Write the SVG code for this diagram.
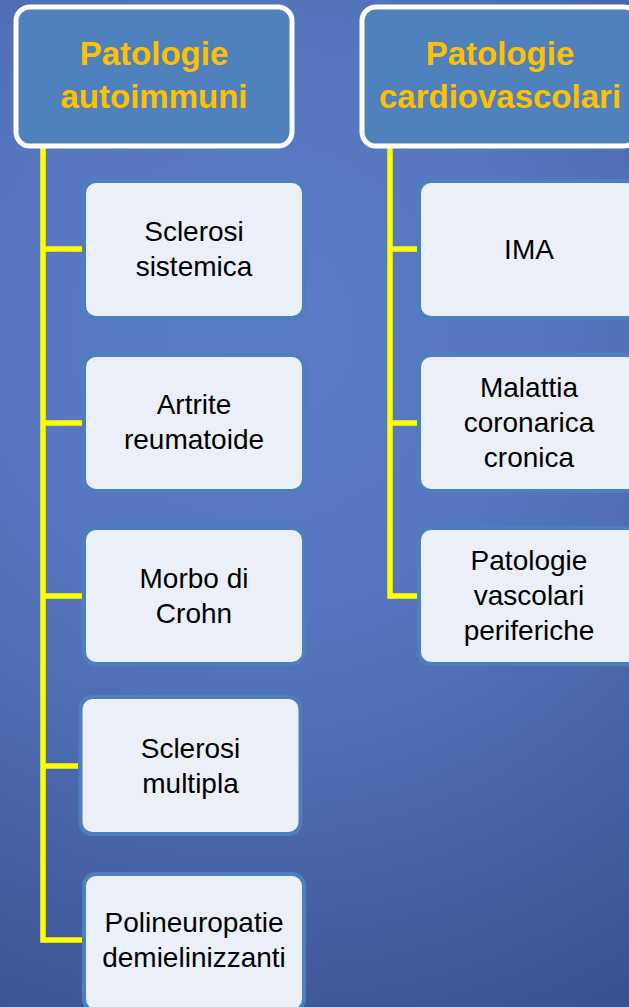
<svg xmlns="http://www.w3.org/2000/svg" width="629" height="1007" viewBox="0 0 629 1007">
<defs>
<radialGradient id="bg" cx="260" cy="330" r="820" gradientUnits="userSpaceOnUse">
<stop offset="0" stop-color="#5b7dc5"/>
<stop offset="0.35" stop-color="#5677c0"/>
<stop offset="1" stop-color="#364d8a"/>
</radialGradient>
<style>
.hdr{fill:#4f81bd;stroke:#ffffff;stroke-width:5}
.htxt{font-family:"Liberation Sans",Arial,sans-serif;font-weight:bold;font-size:33px;fill:#ffc000;text-anchor:middle}
.box{fill:#ebeff8;stroke:#4d7fbc;stroke-width:4}
.btxt{font-family:"Liberation Sans",Arial,sans-serif;font-size:28px;fill:#000000;text-anchor:middle}
.conn{fill:none;stroke:#ffff00;stroke-width:5.5;stroke-linejoin:miter}
</style>
</defs>
<rect x="0" y="0" width="629" height="1007" fill="url(#bg)"/>
<g id="connectors">
<path class="conn" d="M43,146 V940 H82"/>
<path class="conn" d="M43,249 H82 M43,423 H82 M43,596 H82 M43,766 H78"/>
<path class="conn" d="M390,146 V596 H417"/>
<path class="conn" d="M390,249 H417 M390,423 H417"/>
</g>
<g id="hdr-autoimmuni">
<rect class="hdr" x="16" y="7" width="276" height="139" rx="14"/>
<text class="htxt" x="154" y="65">Patologie</text>
<text class="htxt" x="154" y="108">autoimmuni</text>
</g>
<g id="hdr-cardio">
<rect class="hdr" x="362" y="7" width="276" height="139" rx="14"/>
<text class="htxt" x="500" y="65">Patologie</text>
<text class="htxt" x="500" y="108">cardiovascolari</text>
</g>
<g id="sclerosi-sistemica">
<rect class="box" x="84" y="181" width="220" height="137" rx="12"/>
<text class="btxt" x="194" y="241">Sclerosi</text>
<text class="btxt" x="194" y="276">sistemica</text>
</g>
<g id="artrite">
<rect class="box" x="84" y="355" width="220" height="136" rx="12"/>
<text class="btxt" x="194" y="414">Artrite</text>
<text class="btxt" x="194" y="449">reumatoide</text>
</g>
<g id="crohn">
<rect class="box" x="84" y="528" width="220" height="136" rx="12"/>
<text class="btxt" x="194" y="588">Morbo di</text>
<text class="btxt" x="194" y="623">Crohn</text>
</g>
<g id="sclerosi-multipla">
<rect class="box" x="80.5" y="697" width="220" height="137" rx="12"/>
<text class="btxt" x="190.5" y="758">Sclerosi</text>
<text class="btxt" x="190.5" y="793">multipla</text>
</g>
<g id="polineuropatie">
<rect class="box" x="84" y="874" width="220" height="137" rx="12"/>
<text class="btxt" x="194" y="932">Polineuropatie</text>
<text class="btxt" x="194" y="967">demielinizzanti</text>
</g>
<g id="ima">
<rect class="box" x="419" y="181" width="220" height="137" rx="12"/>
<text class="btxt" x="529" y="259">IMA</text>
</g>
<g id="malattia-coronarica">
<rect class="box" x="419" y="355" width="220" height="136" rx="12"/>
<text class="btxt" x="529" y="397">Malattia</text>
<text class="btxt" x="529" y="432">coronarica</text>
<text class="btxt" x="529" y="467">cronica</text>
</g>
<g id="patologie-vascolari">
<rect class="box" x="419" y="528" width="220" height="136" rx="12"/>
<text class="btxt" x="529" y="570">Patologie</text>
<text class="btxt" x="529" y="605">vascolari</text>
<text class="btxt" x="529" y="640">periferiche</text>
</g>
</svg>
